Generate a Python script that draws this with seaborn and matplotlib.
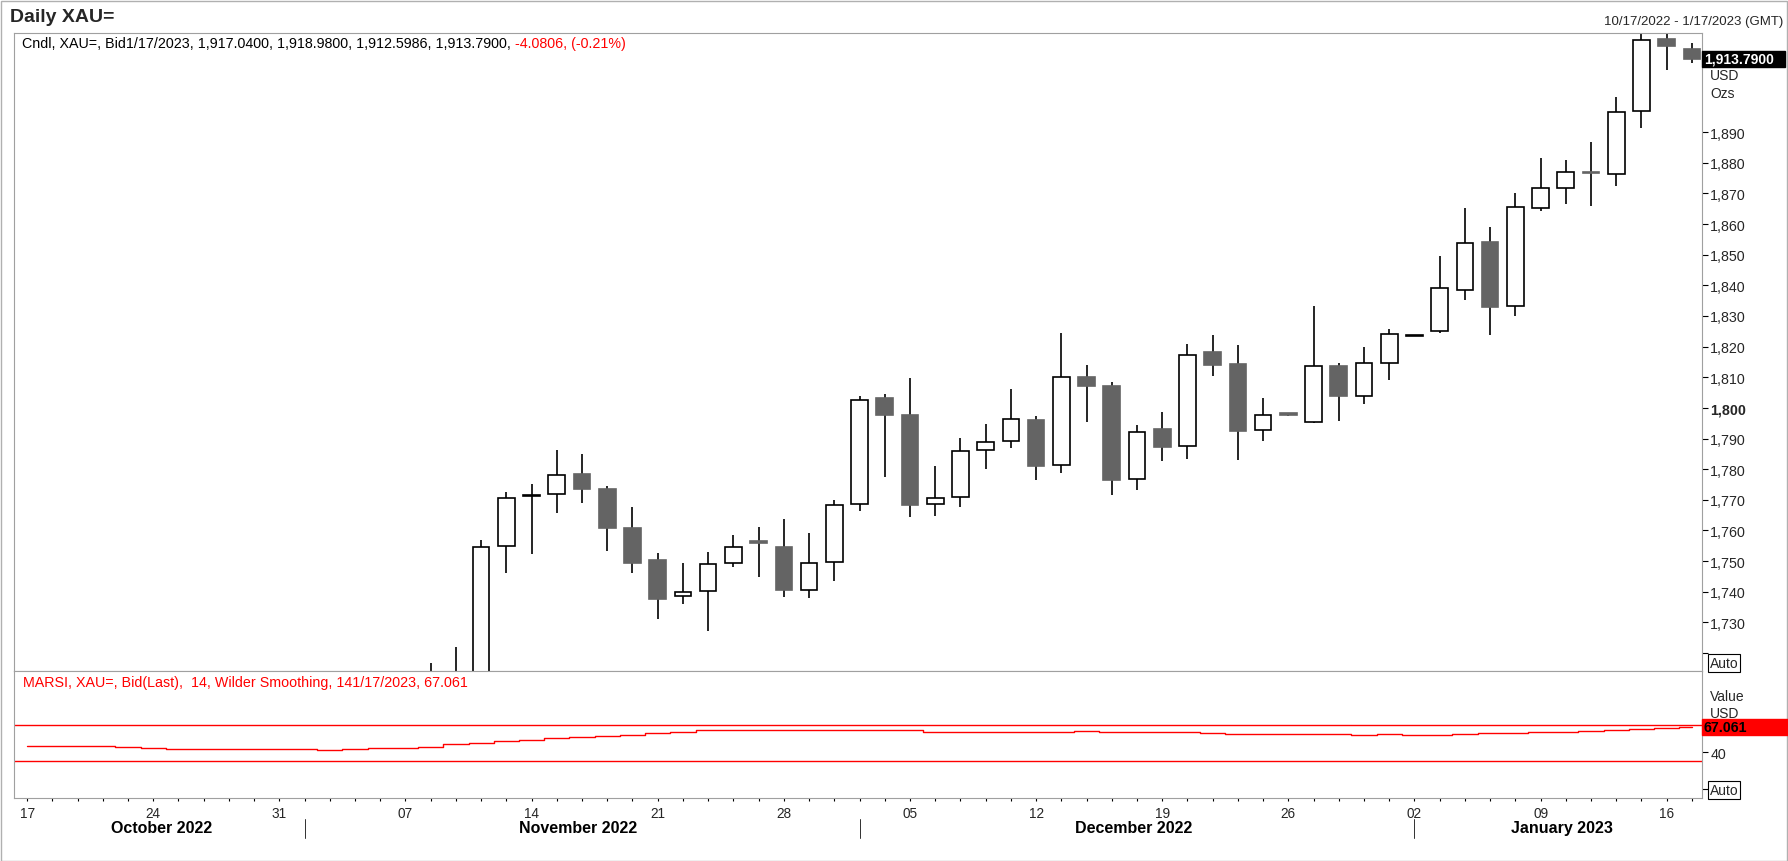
import seaborn as sns
import matplotlib.pyplot as plt
from matplotlib.patches import Rectangle
import pandas as pd
import numpy as np

# ---- data (XAU= daily bid) ----
dates = pd.bdate_range('2022-10-17', '2023-01-17')

opens = [1644.5, 1649.5, 1652.0, 1629.5, 1627.5, 1656.5, 1649.5, 1652.0, 1664.5, 1663.0,
         1644.5, 1633.0, 1647.5, 1635.5, 1630.0, 1681.0, 1676.0, 1712.0, 1705.5, 1754.8,
         1771.2, 1771.8, 1778.4, 1773.6, 1760.7, 1750.5, 1738.5, 1740.2, 1749.3, 1756.4,
         1754.5, 1740.7, 1749.6, 1768.6, 1803.1, 1797.6, 1768.6, 1770.8, 1786.2, 1789.1,
         1796.0, 1781.4, 1810.2, 1807.0, 1776.7, 1793.1, 1787.5, 1818.2, 1814.2, 1792.7,
         1798.2, 1795.3, 1813.8, 1804.0, 1814.6, 1823.4, 1825.1, 1838.6, 1854.1, 1833.2,
         1865.2, 1871.7, 1877.0, 1876.3, 1896.9, 1920.3, 1917.04]
highs = [1667.5, 1660.0, 1656.0, 1645.0, 1662.0, 1674.0, 1657.0, 1671.0, 1669.0, 1666.0,
         1649.0, 1656.0, 1660.0, 1637.0, 1682.0, 1684.0, 1716.8, 1722.1, 1757.0, 1772.7,
         1775.0, 1786.4, 1784.9, 1774.6, 1767.5, 1752.8, 1749.5, 1753.1, 1758.6, 1761.0,
         1763.6, 1759.1, 1769.8, 1803.9, 1804.4, 1809.9, 1781.0, 1790.3, 1794.6, 1806.1,
         1797.2, 1824.4, 1813.9, 1808.6, 1794.4, 1798.5, 1821.0, 1823.7, 1820.5, 1803.1,
         1798.4, 1833.1, 1814.5, 1820.0, 1825.9, 1823.9, 1849.7, 1865.1, 1858.9, 1870.0,
         1881.4, 1880.8, 1886.7, 1901.4, 1922.0, 1922.5, 1918.98]
lows = [1640.0, 1645.0, 1628.0, 1621.0, 1617.0, 1639.0, 1639.0, 1650.0, 1658.0, 1640.0,
        1632.0, 1630.0, 1636.0, 1617.0, 1630.0, 1663.0, 1668.0, 1701.0, 1704.0, 1746.2,
        1752.4, 1765.7, 1769.0, 1753.3, 1746.2, 1731.1, 1736.0, 1727.2, 1748.1, 1744.8,
        1738.3, 1738.0, 1743.5, 1766.4, 1777.5, 1764.4, 1764.8, 1767.7, 1780.0, 1786.9,
        1776.4, 1778.6, 1795.4, 1771.6, 1773.2, 1782.7, 1783.3, 1810.5, 1783.0, 1789.2,
        1797.3, 1795.0, 1795.8, 1801.3, 1809.2, 1823.3, 1824.3, 1835.3, 1823.9, 1830.0,
        1864.1, 1866.6, 1866.0, 1872.5, 1891.2, 1910.4, 1912.60]
closes = [1649.5, 1652.0, 1629.5, 1627.5, 1656.5, 1649.5, 1652.0, 1664.5, 1663.0, 1644.5,
          1633.0, 1647.5, 1635.5, 1630.0, 1681.0, 1676.0, 1712.0, 1705.5, 1754.6, 1770.6,
          1771.6, 1778.1, 1773.5, 1760.8, 1749.4, 1737.6, 1739.9, 1749.1, 1754.6, 1756.0,
          1740.6, 1749.4, 1768.3, 1802.6, 1797.6, 1768.3, 1770.6, 1786.0, 1788.9, 1796.5,
          1781.1, 1810.1, 1807.2, 1776.4, 1792.2, 1787.3, 1817.3, 1814.0, 1792.5, 1797.7,
          1797.6, 1813.6, 1803.9, 1814.7, 1824.2, 1823.8, 1839.2, 1853.9, 1833.0, 1865.6,
          1871.6, 1877.1, 1876.6, 1896.6, 1920.2, 1918.0, 1913.79]

# smoothed RSI (MARSI 14, Wilder)
marsi = [46.4, 46.4, 46.4, 46.4, 45.3, 44.2, 43.1, 43.1, 43.1, 43.1,
         43.1, 43.1, 42.0, 43.1, 44.2, 44.5, 46.0, 48.6, 50.0, 51.8,
         53.5, 55.1, 56.6, 57.6, 58.4, 60.6, 62.0, 64.2, 64.2, 64.2,
         64.2, 64.2, 64.2, 64.2, 64.2, 63.9, 61.7, 61.7, 61.7, 61.7,
         61.7, 61.7, 63.1, 61.7, 61.7, 61.7, 61.7, 60.6, 59.5, 59.5,
         59.5, 59.5, 59.5, 58.4, 59.5, 58.4, 58.4, 59.5, 60.6, 60.6,
         61.7, 61.7, 62.8, 63.9, 65.0, 66.1, 67.061]

price_ticks = list(range(1720, 1891, 10))
rsi_ticks = [0, 40]
rsi_levels = [70, 30]

# ---- style ----
sns.set_theme(style='white')
plt.rcParams['font.family'] = ['Liberation Sans', 'DejaVu Sans']
plt.rcParams['axes.edgecolor'] = '#a0a0a0'
plt.rcParams['axes.linewidth'] = 0.8

W, H = 1788, 862
fig = plt.figure(figsize=(W / 100, H / 100), dpi=100)
fig.patch.set_facecolor('white')


def fbox(x0, y0, x1, y1):
    # pixel box -> figure fraction rect
    return [x0 / W, 1 - y1 / H, (x1 - x0) / W, (y1 - y0) / H]


def ftext(x, y, s, **kw):
    return fig.text(x / W, 1 - y / H, s, **kw)


ax = fig.add_axes(fbox(14, 33.5, 1702, 671.5))
ax2 = fig.add_axes(fbox(14, 671.5, 1702, 799.3), sharex=ax)

idx = np.arange(len(dates))
o = np.array(opens)
c = np.array(closes)
up = c >= o

# ---- candles ----
ax.vlines(idx, lows, highs, color='black', linewidth=1.2, zorder=2)
face = np.where(up, 'white', '#646464')
edge = np.where(up, 'black', '#646464')
ax.bar(idx, np.abs(c - o), bottom=np.minimum(o, c), width=0.66,
       color=face, edgecolor=edge, linewidth=1.2, zorder=3)

ax.set_xlim(-0.52, 66.4)
ax.set_ylim(1714.3, 1922.5)
ax.yaxis.tick_right()
ax.set_yticks(price_ticks)
ax.set_yticklabels(['' if t == 1720 else f'{t:,}' for t in price_ticks])
for lab in ax.get_yticklabels():
    if lab.get_text() == '1,800':
        lab.set_fontweight('bold')
ax.tick_params(axis='y', which='both', right=True, left=False, direction='out',
               length=4.5, width=0.8, color='black', pad=1.5, labelsize=10.3)
ax.tick_params(axis='x', bottom=False, labelbottom=False)

# ---- MARSI panel ----
sns.lineplot(x=idx, y=marsi, ax=ax2, color='red', linewidth=1.0,
             drawstyle='steps-mid')
for lvl in rsi_levels:
    ax2.axhline(lvl, color='red', linewidth=1.0)
ax2.set_ylim(-10.4, 129.0)
ax2.yaxis.tick_right()
ax2.set_yticks(rsi_ticks)
ax2.set_yticklabels(['', '40'])
ax2.tick_params(axis='y', right=True, left=False, direction='out',
                length=4.5, width=0.8, color='black', pad=1.5, labelsize=10.3)

ax2.set_xticks(idx)
ax2.set_xticklabels([f'{d.day:02d}' if d.dayofweek == 0 else '' for d in dates])
ax2.tick_params(axis='x', bottom=True, direction='out', length=2.5, width=0.8,
                color='black', pad=3, labelsize=9.8)
ax2.set_xlabel('')
ax2.set_ylabel('')

# month names and separators under the day ticks
months = pd.Series(idx, index=dates).groupby(dates.to_period('M'))
for k, (per, grp) in enumerate(months):
    first, last = grp.iloc[0], grp.iloc[-1]
    ax2.text((first + last) / 2 + 0.35, -0.225, per.strftime('%B %Y'),
             transform=ax2.get_xaxis_transform(), ha='center', va='center',
             fontsize=11.5, fontweight='bold', color='black')
    if k > 0:
        ax2.plot([first, first], [-0.16, -0.31], transform=ax2.get_xaxis_transform(),
                 color='#303030', linewidth=0.7, clip_on=False)

# ---- texts ----
ftext(10, 17, 'Daily XAU=', fontsize=14, fontweight='bold', va='center')
ftext(1783, 21.5, '10/17/2022 - 1/17/2023 (GMT)', fontsize=9.5, ha='right', va='center')

info = ftext(22, 44, 'Cndl, XAU=, Bid1/17/2023, 1,917.0400, 1,918.9800, 1,912.5986, 1,913.7900, ',
             fontsize=10.3, va='center', color='black')
fig.canvas.draw()
bb = info.get_window_extent(fig.canvas.get_renderer())
fig.text(bb.x1 / W, 1 - 44 / H, '-4.0806, (-0.21%)', fontsize=10.3, va='center', color='red')

ftext(23, 682.7, 'MARSI, XAU=, Bid(Last),  14, Wilder Smoothing, 141/17/2023, 67.061',
      fontsize=10.3, va='center', color='red')

# last price tag
fig.add_artist(Rectangle(fbox(1702, 52.3, 1785, 67.7)[:2], 83 / W, 15.4 / H,
                         transform=fig.transFigure, color='black', zorder=2))
ftext(1704, 60, '1,913.7900', fontsize=10, fontweight='bold', color='white', va='center', zorder=3)
ftext(1710, 76, 'USD', fontsize=10, va='center')
ftext(1710, 94, 'Ozs', fontsize=10, va='center')

box = dict(boxstyle='square,pad=0.12', fc='white', ec='black', lw=0.8)
ftext(1710, 664, 'Auto', fontsize=10, va='center', bbox=box)
ftext(1710, 791, 'Auto', fontsize=10, va='center', bbox=box)

ftext(1710, 697, 'Value', fontsize=10, va='center')
ftext(1710, 714, 'USD', fontsize=10, va='center')
# second unit label, mostly hidden behind the value tag
ftext(1710, 731, 'USD', fontsize=10, va='center', zorder=1)
fig.add_artist(Rectangle(fbox(1702, 720, 1788, 736)[:2], 86 / W, 16 / H,
                         transform=fig.transFigure, color='red', zorder=2))
ftext(1703, 728, '67.061', fontsize=10.3, fontweight='bold', color='black', va='center', zorder=3)

# outer frame
fig.add_artist(Rectangle((0.5 / W, 0.5 / H), 1 - 1.5 / W, 1 - 2.5 / H, transform=fig.transFigure,
                         fill=False, ec='#b0b0b0', lw=1.0))

fig.savefig('out.png', dpi=100)
